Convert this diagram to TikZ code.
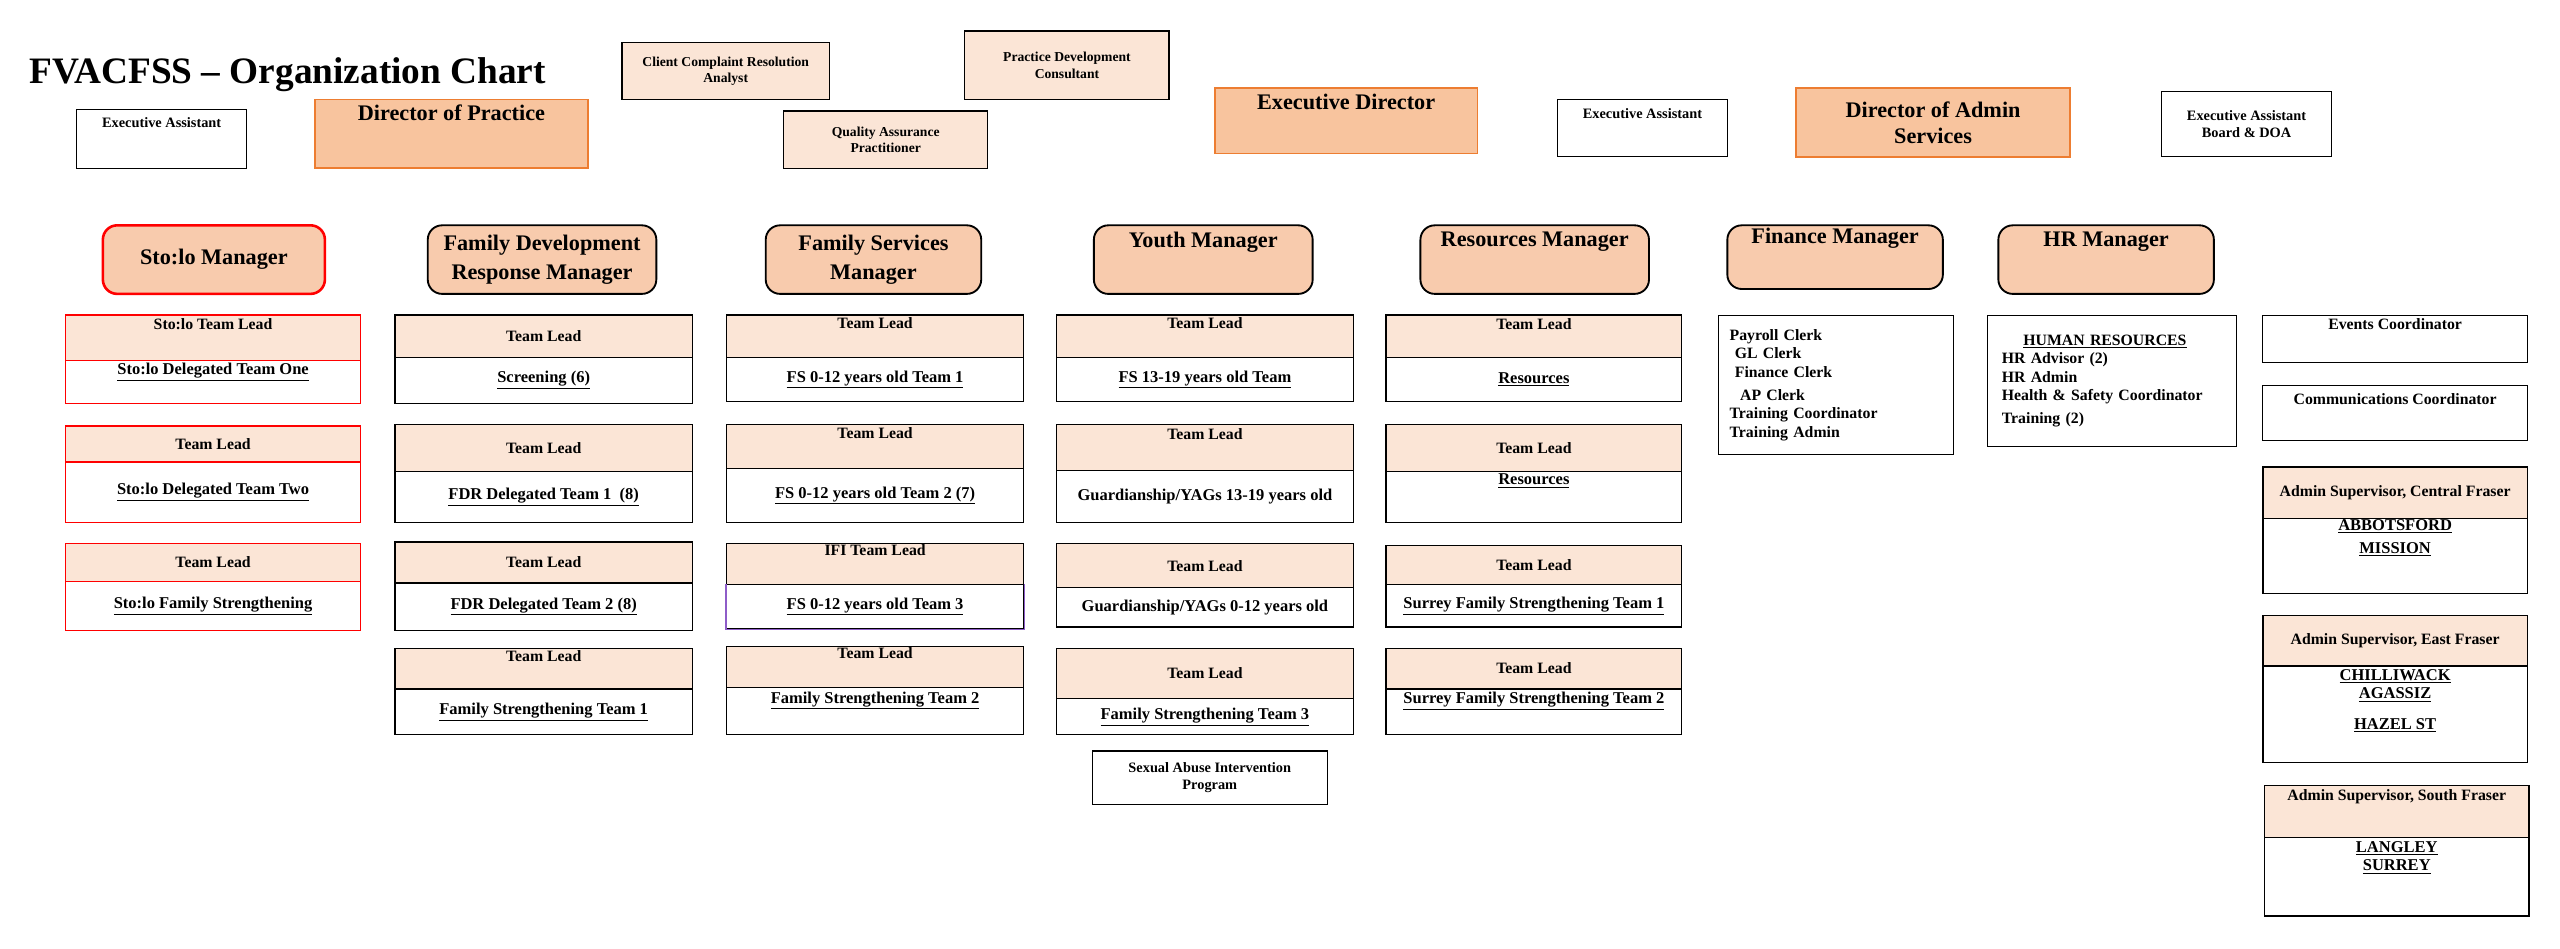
\documentclass[tikz,border=0pt]{standalone}
\usepackage{fontspec}
\setmainfont{Liberation Serif}
\definecolor{dirfill}{HTML}{F8C49E}
\definecolor{dirline}{HTML}{ED7D31}
\definecolor{mgrfill}{HTML}{F8CBAD}
\definecolor{peach}{HTML}{FBE5D6}
\definecolor{ifiline}{HTML}{8E5CC8}
% box from corners: name, x1, y1, x2, y2, style, text
\newcommand\obox[7]{\node[#6, minimum width={(#4-#2)*0.04cm},
  minimum height={(#5-#3)*0.04cm}] (#1) at ({(#2+#4)/2},{(#3+#5)/2}) {#7};}
% team box: name, x1, y1, ysplit, x2, y2, colour, header, body
\newcommand\team[9]{%
  \obox{#1h}{#2}{#3}{#5}{#4}{head, draw=#7}{#8}
  \obox{#1b}{#2}{#4}{#5}{#6}{body, draw=#7}{#9}}
\begin{document}
\begin{tikzpicture}[
    x=0.04cm, y=-0.04cm,
    every node/.style={inner sep=1pt, align=center},
    dir/.style={draw=dirline, fill=dirfill, line width=1.2pt, font=\fontsize{15.5}{18}\selectfont\bfseries},
    plain/.style={draw, thick, fill=white, font=\fontsize{10}{12}\selectfont\bfseries},
    staff/.style={draw, thick, fill=peach, font=\fontsize{9.5}{11.5}\selectfont\bfseries},
    mgr/.style={draw, line width=1.3pt, rounded corners=10pt, fill=mgrfill,
                font=\fontsize{15.5}{20}\selectfont\bfseries},
    head/.style={fill=peach, line width=0.9pt, font=\fontsize{11}{13}\selectfont\bfseries},
    body/.style={fill=white, line width=0.9pt, font=\fontsize{11.5}{13}\selectfont\bfseries},
    list/.style={draw, thick, align=left, anchor=north west, inner ysep=6pt,
                 font=\fontsize{11}{13}\selectfont\bfseries}
  ]
    \useasboundingbox (0,0) rectangle (1568,581);
    \node[anchor=west, font=\fontsize{26}{30}\selectfont\bfseries] (title) at (17,46) {FVACFSS -- Organization Chart};

    % directors and staff
    \obox{ea1}{47}{67}{151}{103}{plain}{Executive Assistant\\[10pt]}
    \obox{dop}{193}{61}{360}{103}{dir}{Director of Practice\\[12pt]}
    \obox{ccr}{381}{26}{508}{61}{staff}{Client Complaint Resolution\\Analyst}
    \obox{qap}{480}{68}{605}{103}{staff}{Quality Assurance\\Practitioner}
    \obox{pdc}{591}{19}{716}{61}{staff}{Practice Development\\Consultant}
    \obox{ed}{744}{54}{905}{94}{dir}{Executive Director\\[8pt]}
    \obox{ea2}{954}{61}{1058}{96}{plain}{Executive Assistant\\[8pt]}
    \obox{doa}{1100}{54}{1268}{96}{dir}{Director of Admin\\Services}
    \obox{ea3}{1324}{56}{1428}{96}{plain}{Executive Assistant\\Board \& DOA}

    % managers
    \obox{stolo}{63}{138}{199}{180}{mgr, draw=red, line width=1.8pt}{Sto:lo Manager}
    \obox{fdr}{262}{138}{402}{180}{mgr}{Family Development\\Response Manager}
    \obox{fs}{469}{138}{601}{180}{mgr}{Family Services\\Manager}
    \obox{youth}{670}{138}{804}{180}{mgr}{Youth Manager\\[8pt]}
    \obox{res}{870}{138}{1010}{180}{mgr}{Resources Manager\\[8pt]}
    \obox{fin}{1058}{138}{1190}{177}{mgr}{Finance Manager\\[10pt]}
    \obox{hr}{1224}{138}{1356}{180}{mgr}{HR Manager\\[8pt]}

    % Sto:lo teams
    \team{st1}{40}{193}{221}{221}{247}{red}{Sto:lo Team Lead\\[6pt]}{\underline{Sto:lo Delegated Team One}\\[6pt]}
    \team{st2}{40}{261}{283}{221}{320}{red}{Team Lead}{\underline{Sto:lo Delegated Team Two}}
    \team{st3}{40}{333}{356}{221}{386}{red}{Team Lead}{\underline{Sto:lo Family Strengthening}}
    % FDR teams
    \team{fd1}{242}{193}{219}{424}{247}{black}{Team Lead}{\underline{Screening (6)}}
    \team{fd2}{242}{260}{289}{424}{320}{black}{Team Lead}{\underline{FDR Delegated Team 1\ \ (8)}}
    \team{fd3}{242}{332}{357}{424}{386}{black}{Team Lead}{\underline{FDR Delegated Team 2 (8)}}
    \team{fd4}{242}{397}{422}{424}{450}{black}{Team Lead\\[4pt]}{\underline{Family Strengthening Team 1}}
    % FS teams
    \team{fs1}{445}{193}{219}{627}{246}{black}{Team Lead\\[6pt]}{\underline{FS 0-12 years old Team 1}}
    \team{fs2}{445}{260}{287}{627}{320}{black}{Team Lead\\[6pt]}{\underline{FS 0-12 years old Team 2 (7)}}
    \team{fs3}{445}{333}{358}{627}{385}{black}{IFI Team Lead\\[6pt]}{\underline{FS 0-12 years old Team 3}}
    \draw[ifiline, line width=0.9pt] (fs3b.north west) -- (fs3b.south west) -- (fs3b.south east) -- (fs3b.north east);
    \team{fs4}{445}{396}{421}{627}{450}{black}{Team Lead\\[6pt]}{\underline{Family Strengthening Team 2}\\[6pt]}
    % Youth teams
    \team{yo1}{647}{193}{219}{829}{246}{black}{Team Lead\\[6pt]}{\underline{FS 13-19 years old Team}}
    \team{yo2}{647}{260}{288}{829}{320}{black}{Team Lead\\[6pt]}{Guardianship/YAGs 13-19 years old}
    \team{yo3}{647}{333}{360}{829}{384}{black}{Team Lead}{Guardianship/YAGs 0-12 years old}
    \team{yo4}{647}{397}{428}{829}{450}{black}{Team Lead}{\underline{Family Strengthening Team 3}}
    \obox{sai}{669}{460}{813}{493}{plain}{Sexual Abuse Intervention\\Program}
    % Resources teams
    \team{rs1}{849}{193}{219}{1030}{246}{black}{Team Lead\\[4pt]}{\underline{Resources}}
    \team{rs2}{849}{260}{289}{1030}{320}{black}{Team Lead}{\underline{Resources}\\[12pt]}
    \team{rs3}{849}{334}{358}{1030}{384}{black}{Team Lead}{\underline{Surrey Family Strengthening Team 1}}
    \team{rs4}{849}{397}{422}{1030}{450}{black}{Team Lead}{\underline{Surrey Family Strengthening Team 2}\\[6pt]}

    % finance and HR
    \node[list, text width=5.2cm, minimum height=3.4cm, inner xsep=8pt] (finlist) at (1052,193)
      {Payroll Clerk\\\ GL Clerk\\\ Finance Clerk\\[3pt]\ \ AP Clerk\\Training Coordinator\\Training Admin};
    \node[list, text width=5.4cm, minimum height=3.2cm, inner xsep=10pt] (hrlist) at (1217,193)
      {\hspace{15pt}\underline{HUMAN RESOURCES}\\HR Advisor (2)\\HR Admin\\Health \& Safety Coordinator\\[3pt]Training (2)};

    % admin services
    \obox{evt}{1386}{193}{1548}{222}{plain, font=\fontsize{11}{12}\selectfont\bfseries}{Events Coordinator\\[8pt]}
    \obox{com}{1386}{236}{1548}{270}{plain, font=\fontsize{11}{12}\selectfont\bfseries}{Communications Coordinator\\[8pt]}
    \team{cf}{1386}{286}{318}{1548}{363}{black}{Admin Supervisor, Central Fraser}{\underline{ABBOTSFORD}\\[3pt]\underline{MISSION}\\[14pt]}
    \team{ef}{1386}{377}{408}{1548}{467}{black}{Admin Supervisor, East Fraser}{\underline{CHILLIWACK}\\\underline{AGASSIZ}\\[8pt]\underline{HAZEL ST}\\[8pt]}
    \team{sf}{1387}{481}{513}{1549}{561}{black}{Admin Supervisor, South Fraser\\[10pt]}{\underline{LANGLEY}\\\underline{SURREY}\\[16pt]}
  \end{tikzpicture}
\end{document}
